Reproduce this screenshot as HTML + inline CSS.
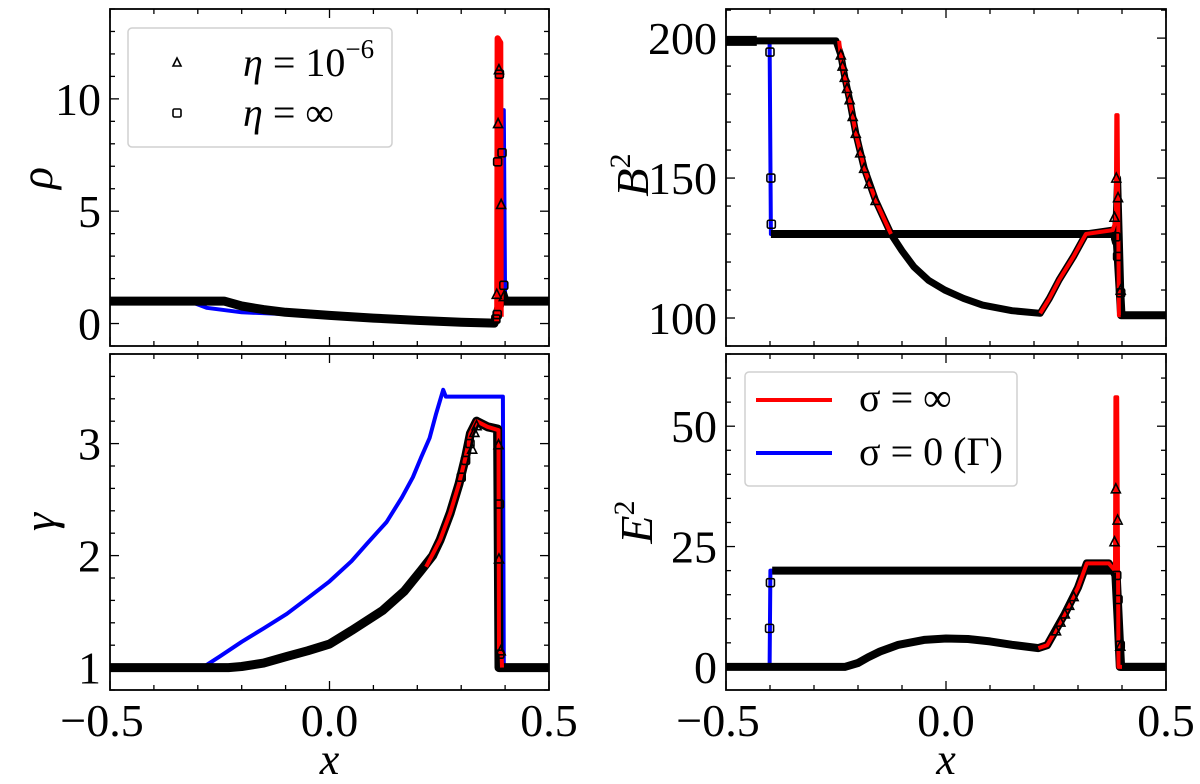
<!DOCTYPE html>
<html><head><meta charset="utf-8">
<style>
html,body{margin:0;padding:0;background:#fff;}
svg{display:block;font-family:"Liberation Serif",serif;}
</style></head>
<body>
<svg id="fig" width="1200" height="784" viewBox="0 0 1200 784" xmlns="http://www.w3.org/2000/svg"></svg>
<script>
// ---------- data ----------
// rho panel
const rhoBlackX=[-0.5,-0.24,-0.2,-0.15,-0.1,0,0.1,0.2,0.3,0.375,0.38,0.39,0.395,0.4,0.5];
const rhoBlackY=[1,1,0.78,0.62,0.5,0.36,0.24,0.14,0.06,0.02,0.3,1.0,1.3,1,1];
const rhoBlueX=[-0.5,-0.32,-0.28,-0.2,-0.1,0,0.2,0.38,0.39,0.393,0.397,0.4,0.5];
const rhoBlueY=[1,1,0.7,0.5,0.42,0.34,0.14,0.02,1,9.5,9.5,1,1];
const rhoRedX=[0.382,0.383,0.386,0.389,0.39];
const rhoRedY=[0.1,12.7,12.6,12.5,0.3];
const rhoTriX=[0.386,0.384,0.391,0.381,0.397];
const rhoTriY=[11.3,8.9,5.3,1.3,1.2];
const rhoSqX=[0.387,0.383,0.393,0.397,0.382,0.379];
const rhoSqY=[11.1,7.2,7.6,1.7,0.4,0.2];
// gamma panel
const gamBlackX=[-0.5,-0.23,-0.2,-0.15,-0.097,-0.05,0,0.05,0.121,0.17,0.209,0.235,0.252,0.275,0.295,0.31,0.321,0.335,0.36,0.383,0.386,0.39,0.5];
const gamBlackY=[1,1,1.01,1.04,1.1,1.15,1.21,1.33,1.51,1.68,1.87,2.0,2.14,2.38,2.64,2.88,3.09,3.2,3.15,3.13,1.0,1.0,1];
const gamBlueX=[-0.5,-0.289,-0.25,-0.2,-0.15,-0.097,-0.05,0,0.05,0.086,0.13,0.165,0.19,0.209,0.228,0.243,0.259,0.265,0.395,0.397,0.5];
const gamBlueY=[1,1.0,1.1,1.23,1.35,1.48,1.62,1.77,1.95,2.11,2.3,2.52,2.7,2.88,3.05,3.27,3.48,3.42,3.42,1.0,1];
const gamRedX=[0.22,0.252,0.275,0.295,0.31,0.321,0.335,0.36,0.385,0.386,0.392,0.393];
const gamRedY=[1.9,2.14,2.38,2.64,2.88,3.09,3.2,3.15,3.12,1.15,1.12,1.0];
const gamTriX=[0.385,0.386,0.39,0.335,0.33,0.325];
const gamTriY=[2.99,1.97,1.15,3.16,3.1,2.95];
const gamSqX=[0.387,0.388,0.32,0.31,0.3];
const gamSqY=[2.46,1.12,3.0,2.85,2.7];
// B^2 panel
const bBlackX=[-0.5,-0.25,-0.239,-0.23,-0.219,-0.205,-0.186,-0.16,-0.125,-0.1,-0.073,-0.04,-0.003,0.04,0.083,0.15,0.214,0.235,0.257,0.29,0.318,0.379,0.385,0.39,0.397,0.4,0.5];
const bBlackY=[199,199,194,186,178,166,153.5,142,130,124,118.3,113.5,110,107,104.6,102.6,101.7,107,113.6,122,130,131.4,127,150,110,101,101];
const bFlatX=[-0.5,-0.43,-0.401,-0.398,0.38,0.388,0.398,0.5];
const bFlatY=[199,199,199,130,130,128,101,101];
const bRedX=[-0.243,-0.239,-0.23,-0.219,-0.205,-0.186,-0.16,-0.125,null,0.214,0.235,0.257,0.29,0.318,0.379,0.386,0.387,0.39,0.393,0.397];
const bRedY=[199,194,186,178,166,153.5,142,130,null,101.7,107,113.6,122,130,131.4,135,172.5,172.5,101,101];
const bTriX=[-0.239,-0.235,-0.23,-0.225,-0.219,-0.212,-0.205,-0.195,-0.186,-0.175,-0.16,0.387,0.391,0.383,0.397];
const bTriY=[194,190,186,182,178,172,166,159,153.5,148,142,150,143,136,110];
const bSqX=[-0.4,-0.398,-0.397,0.386,0.39,0.397];
const bSqY=[195,150,133.5,129,122,109];
// E^2 panel
const eBlackX=[-0.5,-0.23,-0.2,-0.177,-0.15,-0.108,-0.05,0,0.05,0.1,0.15,0.21,0.23,0.27,0.3,0.32,0.37,0.38,0.385,0.39,0.395,0.5];
const eBlackY=[0,0,0.8,2.0,3.2,4.6,5.6,5.9,5.8,5.3,4.6,3.9,4.5,11,16.5,21.5,21.5,20,19,10,0,0];
const eFlatX=[-0.5,-0.401,-0.399,-0.395,0.382,0.388,0.398,0.5];
const eFlatY=[0,0,20,20,20,19,0,0];
const eRedX=[0.21,0.23,0.27,0.3,0.32,0.37,0.384,0.385,0.389,0.392,0.4];
const eRedY=[3.9,4.5,11,16.5,21.5,21.5,20,56,56,0,0];
const eTriX=[0.386,0.39,0.383,0.396,0.25,0.26,0.27,0.28,0.29];
const eTriY=[37,30.5,26,4.3,7.5,9.3,11,12.8,14.6];
const eSqX=[-0.401,-0.399,0.388,0.391,0.396];
const eSqY=[8,17.5,19,14,4.5];

const xTickVals=[-0.5,0.0,0.5];
const xTickLabels=["\u22120.5","0.0","0.5"];
const rhoTicks=[0,5,10], rhoLabels=["0","5","10"];
const gamTicks=[1,2,3], gamLabels=["1","2","3"];
const bTicks=[100,150,200], bLabels=["100","150","200"];
const eTicks=[0,25,50], eLabels=["0","25","50"];

// ---------- drawing ----------
const NS="http://www.w3.org/2000/svg";
const svg=document.getElementById('fig');
function mk(tag,attrs,parent){const e=document.createElementNS(NS,tag);for(const k in attrs)e.setAttribute(k,attrs[k]);(parent||svg).appendChild(e);return e;}

function panel(cfg){
  const g=mk('g',{});
  
  
  const X=x=>cfg.l+(x+0.5)/1.0*(cfg.r-cfg.l);
  const Y=y=>cfg.b-(y-cfg.ymin)/(cfg.ymax-cfg.ymin)*(cfg.b-cfg.t);
  const cid='clip-'+cfg.name;
  const cp=mk('clipPath',{id:cid},g);
  mk('rect',{x:cfg.l,y:cfg.t,width:cfg.r-cfg.l,height:cfg.b-cfg.t},cp);
  const data=mk('g',{'clip-path':'url(#'+cid+')'},g);
  function line(xs,ys,color,w,name){
    let d='',pen=false;
    xs.forEach((x,i)=>{
      if(x===null||ys[i]===null){pen=false;return;}
      d+=(pen?'L':'M')+X(x).toFixed(1)+' '+Y(ys[i]).toFixed(1)+' ';pen=true;});
    const p=mk('path',{d:d,fill:'none',stroke:color,'stroke-width':w,'stroke-linejoin':'round','stroke-linecap':'butt'},data);
    
    
  }
  function tri(xs,ys,name){
    xs.forEach((x,i)=>{const cx=X(x),cy=Y(ys[i]);
      const p=mk('polygon',{points:`${cx},${cy-5} ${cx-4.5},${cy+4} ${cx+4.5},${cy+4}`,fill:'none',stroke:'#000','stroke-width':1.6},data);
      
      });
  }
  function sq(xs,ys,name){
    xs.forEach((x,i)=>{const cx=X(x),cy=Y(ys[i]);
      const p=mk('rect',{x:cx-4,y:cy-4,width:8,height:8,rx:1.5,fill:'none',stroke:'#000','stroke-width':1.6},data);
      
      });
  }
  cfg.draw(line,tri,sq);
  const fr=mk('rect',{x:cfg.l,y:cfg.t,width:cfg.r-cfg.l,height:cfg.b-cfg.t,fill:'none',stroke:'#000','stroke-width':1.8},g);
  
  
  for(let k=-5;k<=5;k++){const x=k/10;const px=X(x);const major=(k%5===0);const L=major?9:5;
    mk('line',{x1:px,y1:cfg.b,x2:px,y2:cfg.b-L,stroke:'#000','stroke-width':1.3},g);
    mk('line',{x1:px,y1:cfg.t,x2:px,y2:cfg.t+L,stroke:'#000','stroke-width':1.3},g);}
  for(let v=Math.ceil(cfg.ymin/cfg.minor)*cfg.minor;v<=cfg.ymax+1e-9;v+=cfg.minor){
    const py=Y(v);const major=cfg.ticks.some(t=>Math.abs(t-v)<1e-6);const L=major?9:5;
    mk('line',{x1:cfg.l,y1:py,x2:cfg.l+L,y2:py,stroke:'#000','stroke-width':1.3},g);
    mk('line',{x1:cfg.r,y1:py,x2:cfg.r-L,y2:py,stroke:'#000','stroke-width':1.3},g);}
  cfg.ticks.forEach((t,i)=>{const tx=mk('text',{x:cfg.l-9,y:Y(t)+16,'text-anchor':'end','font-size':46},g);tx.textContent=cfg.labels[i];
    
    });
  if(cfg.xlabels){
    xTickVals.forEach((t,i)=>{const tx=mk('text',{x:X(t)+(i===0?-8:0),y:cfg.b+46,'text-anchor':'middle','font-size':46},g);tx.textContent=xTickLabels[i];
      
      });
    const xl=mk('text',{x:(cfg.l+cfg.r)/2,y:cfg.b+84,'text-anchor':'middle','font-size':44,'font-style':'italic'},g);xl.textContent='x';
    
    
  }
  return {X,Y,g};
}

panel({name:'rho-panel',l:110,r:549,t:9,b:346,ymin:-1,ymax:14,minor:1,ticks:rhoTicks,labels:rhoLabels,
  draw:(line,tri,sq)=>{line(rhoBlueX,rhoBlueY,'#0000ff',4,'rho-blue-series');line(rhoBlackX,rhoBlackY,'#000',9,'rho-black-series');
    line(rhoRedX,rhoRedY,'#ff0000',6,'rho-red-series');tri(rhoTriX,rhoTriY,'rho-triangle-marker');sq(rhoSqX,rhoSqY,'rho-square-marker');}});
panel({name:'gamma-panel',l:110,r:549,t:354,b:690,ymin:0.8,ymax:3.8,minor:0.2,ticks:gamTicks,labels:gamLabels,xlabels:true,
  draw:(line,tri,sq)=>{line(gamBlueX,gamBlueY,'#0000ff',4,'gamma-blue-series');line(gamBlackX,gamBlackY,'#000',9,'gamma-black-series');
    line(gamRedX,gamRedY,'#ff0000',4,'gamma-red-series');tri(gamTriX,gamTriY,'gamma-triangle-marker');sq(gamSqX,gamSqY,'gamma-square-marker');}});
panel({name:'b2-panel',l:726,r:1166,t:9,b:346,ymin:90,ymax:210.4,minor:10,ticks:bTicks,labels:bLabels,
  draw:(line,tri,sq)=>{line(bFlatX,bFlatY,'#0000ff',4,'b2-blue-series');line(bBlackX,bBlackY,'#000',7,'b2-black-series');
    line(bFlatX.slice(3),bFlatY.slice(3),'#000',8,'b2-black-flat-series');
    line(bRedX,bRedY,'#ff0000',4,'b2-red-series');
    line([-0.5,-0.43],[199,199],'#000',10,'b2-black-left');
    tri(bTriX,bTriY,'b2-triangle-marker');sq(bSqX,bSqY,'b2-square-marker');}});
panel({name:'e2-panel',l:726,r:1166,t:354,b:690,ymin:-4.8,ymax:65,minor:5,ticks:eTicks,labels:eLabels,xlabels:true,
  draw:(line,tri,sq)=>{line(eFlatX,eFlatY,'#0000ff',4,'e2-blue-series');line(eBlackX,eBlackY,'#000',8,'e2-black-series');
    line(eFlatX.slice(3),eFlatY.slice(3),'#000',8,'e2-black-flat-series');
    line(eRedX,eRedY,'#ff0000',4,'e2-red-series');
    tri(eTriX,eTriY,'e2-triangle-marker');sq(eSqX,eSqY,'e2-square-marker');}});
</script>
<svg width="1200" height="784" style="position:absolute;left:0;top:0" xmlns="http://www.w3.org/2000/svg">
  <g font-family="Liberation Serif, serif" font-style="italic">
    <text x="52" y="178" font-size="46" transform="rotate(-90 52 178)" text-anchor="middle">ρ</text>
    <text x="55" y="522" font-size="46" transform="rotate(-90 55 522)" text-anchor="middle">γ</text>
    <text x="648" y="175" font-size="46" transform="rotate(-90 648 175)" text-anchor="middle">B<tspan font-style="normal" font-size="30" dy="-18">2</tspan></text>
    <text x="652" y="522" font-size="46" transform="rotate(-90 652 522)" text-anchor="middle">E<tspan font-style="normal" font-size="30" dy="-18">2</tspan></text>
  </g>
  <g>
    <rect x="128" y="28" width="264" height="119" rx="4" fill="#fff" fill-opacity="0.8" stroke="#d0d0d0" stroke-width="1.5"/>
    <polygon points="177,58 173,66 181,66" fill="none" stroke="#000" stroke-width="1.6"/>
    <rect x="173" y="109" width="8" height="8" rx="1.5" fill="none" stroke="#000" stroke-width="1.6"/>
    <text x="243" y="76" font-size="40" font-family="Liberation Serif, serif"><tspan font-style="italic">η</tspan> = 10<tspan font-size="27" dy="-18">−6</tspan></text>
    <text x="243" y="126" font-size="40" font-family="Liberation Serif, serif"><tspan font-style="italic">η</tspan> = ∞</text>
  </g>
  <g>
    <rect x="745" y="372" width="272" height="114" rx="4" fill="#fff" fill-opacity="0.8" stroke="#d0d0d0" stroke-width="1.5"/>
    <line x1="756" y1="400" x2="832" y2="400" stroke="#ff0000" stroke-width="4"/>
    <line x1="756" y1="453" x2="832" y2="453" stroke="#0000ff" stroke-width="4"/>
    <text x="859" y="411" font-size="40" font-family="Liberation Serif, serif">σ = ∞</text>
    <text x="859" y="465" font-size="40" font-family="Liberation Serif, serif">σ = 0 (Γ)</text>
  </g>
</svg>
</body></html>
